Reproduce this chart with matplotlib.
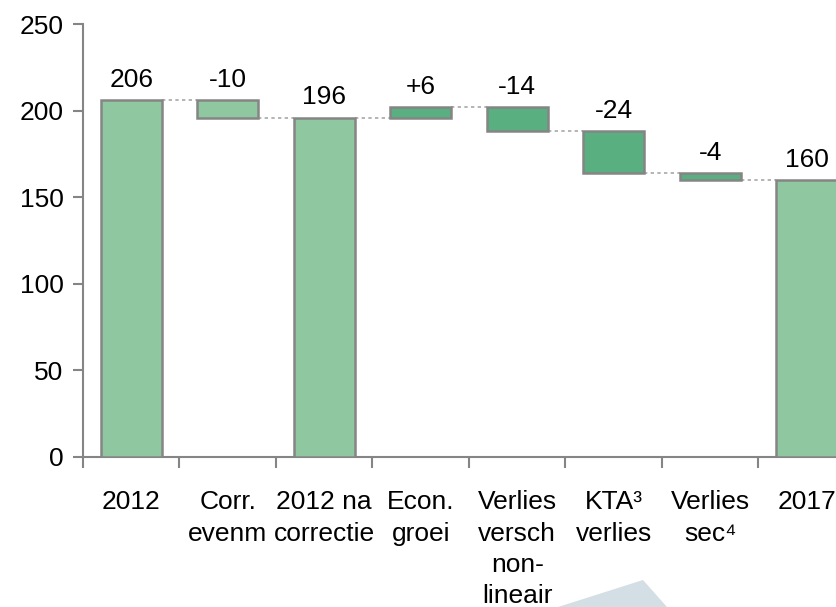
import matplotlib.pyplot as plt
from matplotlib.patches import Polygon

plt.rcParams['font.family'] = ['Liberation Sans', 'DejaVu Sans']

# waterfall data
categories = ["2012", "Corr.\nevenm", "2012 na\ncorrectie", "Econ.\ngroei",
              "Verlies\nversch\nnon-\nlineair", "KTA\u00b3\nverlies", "Verlies\nsec\u2074", "2017"]
changes = [206, -10, 196, 6, -14, -24, -4, 160]
is_total = [True, False, True, False, False, False, False, True]
labels = ["206", "-10", "196", "+6", "-14", "-24", "-4", "160"]

light = "#8fc8a0"
dark = "#5aaf80"
edge = "#858585"
fs = 19

fig = plt.figure(figsize=(8.37, 6.07), dpi=100)
ax = fig.add_axes([83 / 837, 150 / 607, 772 / 837, 433 / 607])

bottoms = []
tops = []
level = 0
for i, v in enumerate(changes):
    if is_total[i]:
        b, t = 0, v
        level = v
    else:
        start = level
        level = level + v
        b, t = min(start, level), max(start, level)
    bottoms.append(b)
    tops.append(t)

colors = [light if i < 3 or i == 7 else dark for i in range(len(changes))]
w = 0.63
ax.bar(range(len(changes)), [t - b for b, t in zip(bottoms, tops)], bottom=bottoms,
       width=w, color=colors, edgecolor=edge, linewidth=1.8, zorder=3)

# connectors
level = 0
for i, v in enumerate(changes[:-1]):
    level = v if is_total[i] else level + v
    ax.plot([i + w / 2, i + 1 - w / 2], [level, level], linestyle=(0, (2, 2)),
            color="#a8a8a8", linewidth=1.2, zorder=2)

for i, lab in enumerate(labels):
    ax.annotate(lab, (i, tops[i]), xytext=(0, 6), textcoords="offset points",
                ha="center", va="bottom", fontsize=fs)

ax.set_xlim(-0.5, 7.5)
ax.set_ylim(0, 250)
ax.set_yticks([0, 50, 100, 150, 200, 250])
ax.set_xticks([k - 0.5 for k in range(9)])
ax.set_xticklabels([])
ax.set_xticks(range(len(categories)), minor=True)
ax.set_xticklabels(categories, minor=True, fontsize=fs, linespacing=1.38, va="top")
ax.tick_params(axis="x", which="minor", length=0, pad=24)
ax.tick_params(axis="x", which="major", length=8, width=1.5, color=edge)
ax.tick_params(axis="y", length=7, width=1.5, color=edge, labelsize=fs, pad=7)

for s in ["top", "right"]:
    ax.spines[s].set_visible(False)
for s in ["left", "bottom"]:
    ax.spines[s].set_color(edge)
    ax.spines[s].set_linewidth(1.5)

# faint watermark shape at the bottom
fig.patches.append(Polygon([(558 / 837, 0), (643 / 837, 27 / 607), (667 / 837, 0)],
                           closed=True, transform=fig.transFigure,
                           facecolor="#d3dfe4", edgecolor="none", zorder=0))

fig.savefig("out.png", dpi=100)
